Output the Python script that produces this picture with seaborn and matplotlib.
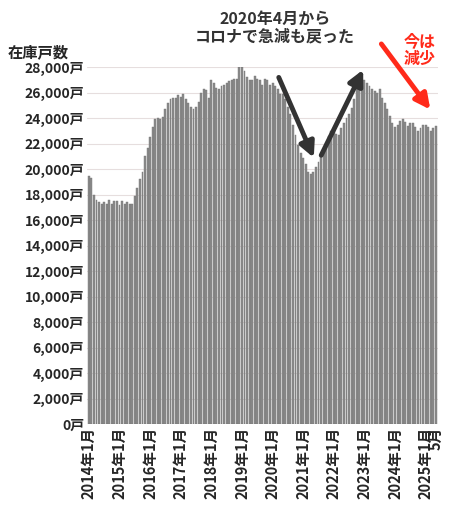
import matplotlib
matplotlib.use("Agg")
import matplotlib.pyplot as plt
import seaborn as sns
import pandas as pd
import numpy as np

sns.set_style("white")
plt.rcParams['font.family'] = ['Noto Sans CJK JP', 'DejaVu Sans']

values = [
 19500,19300,18000,17600,17400,17300,17400,17300,17600,17300,17500,17500,
 17200,17500,17300,17400,17300,17300,17900,18500,19200,19800,21000,21700,
 22500,23300,23900,24000,23900,24100,24700,25200,25500,25600,25600,25800,
 25700,25900,25500,25200,24900,24700,24900,25300,26000,26300,26200,25600,
 27000,26800,26400,26300,26500,26600,26800,26900,27000,27100,27100,28000,
 28000,27700,27200,27000,27000,27300,27100,27000,26600,27100,27000,26600,
 26800,26500,26300,25900,25900,25500,24900,24300,23500,22700,21900,21300,
 20900,20400,19800,19600,19800,20200,20600,21000,21500,22000,22600,23000,
 23200,22800,22700,23200,23600,24000,24300,24800,25500,26300,26700,27000,
 27000,26800,26500,26300,26100,26000,26300,25600,25200,24700,24200,23600,
 23300,23500,23800,23900,23700,23400,23600,23600,23300,23000,23200,23500,
 23500,23300,23000,23200,23400]
years = list(range(2014, 2026))
months = [f"{y}-{m}" for y in years for m in range(1, 13)][:len(values)]
df = pd.DataFrame({"month": months, "value": values})

fig = plt.figure(figsize=(4.5, 5.13), dpi=100)
ax = fig.add_axes([0.193, 0.173, 0.78, 0.696])
sns.barplot(data=df, x="month", y="value", color="#8a8a8a", width=0.75,
            edgecolor="#777777", linewidth=0.3, ax=ax, saturation=1)
ax.set_ylim(0, 28000)
ax.set_xlim(-0.8, len(values) - 0.2)
yt = np.arange(0, 28001, 2000)
ax.set_yticks(yt)
ax.set_yticklabels([f"{v:,}戸" for v in yt], fontsize=10, fontweight="bold")
ticks = [i * 12 for i in range(len(years))] + [len(values) - 1]
labels = [f"{y}年1月" for y in years] + ["5月"]
ax.set_xticks(ticks)
ax.set_xticklabels(labels, rotation=90, fontsize=10.5, fontweight="bold")
ax.tick_params(length=0, pad=2)
ax.set_xlabel(""); ax.set_ylabel("")
ax.grid(axis="y", color="#e6dede", linewidth=0.8)
ax.set_axisbelow(True)
for s in ax.spines.values():
    s.set_visible(False)

fig.text(8/450, 1-52/513, "在庫戸数", fontsize=11, fontweight="bold", va="center")
fig.text(275/450, 1-28/513, "2020年4月から\nコロナで急減も戻った", fontsize=11.5,
         fontweight="bold", ha="center", va="center", color="#333333", linespacing=1.1)
fig.text(420/450, 1-50/513, "今は\n減少", fontsize=11.5, fontweight="bold",
         ha="center", va="center", color="#ff2a1a", linespacing=1.1)
ap = dict(arrowstyle="-|>,head_width=0.45,head_length=0.9", lw=3.5)
ax.annotate("", xy=(88.6, 20700), xytext=(74, 27400),
            arrowprops=dict(color="#333333", **ap), annotation_clip=False)
ax.annotate("", xy=(108, 28000), xytext=(90.6, 20900),
            arrowprops=dict(color="#333333", **ap), annotation_clip=False)
ax.annotate("", xy=(134.5, 24500), xytext=(114, 30000),
            arrowprops=dict(color="#ff2a1a", **ap), annotation_clip=False)
fig.savefig("out.png", dpi=100)
